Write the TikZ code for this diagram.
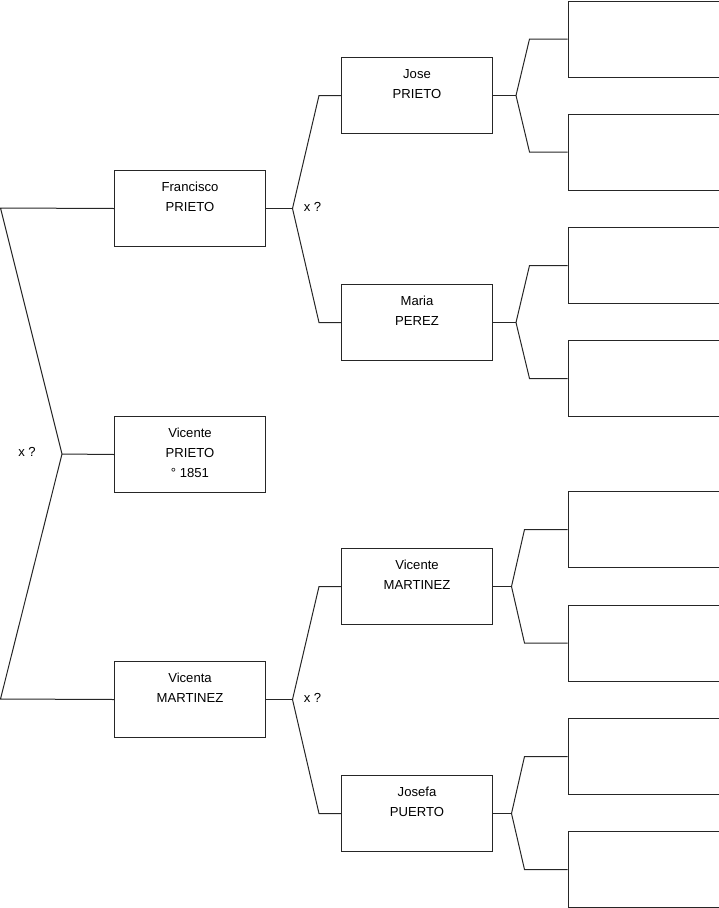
\documentclass[tikz,border=0pt]{standalone}
\usepackage{fontspec}
\setmainfont{Liberation Sans}
\usetikzlibrary{calc}
\begin{document}
\begin{tikzpicture}[x=1pt,y=-1pt,
  person/.style={draw=black!85, line width=1pt, minimum width=151pt, minimum height=76pt, anchor=north west, inner sep=0pt},
  pname/.style={font=\fontsize{13.1}{20}\selectfont, align=center, anchor=north, inner sep=0pt, yshift=-12pt},
  link/.style={draw=black!85, line width=1pt},
  marr/.style={font=\fontsize{13.1}{15}\selectfont, inner sep=0pt}
]
\useasboundingbox (0,0) rectangle (719,908);
% generation 1
\node[person] (fp) at (114,170) {};
\node[person] (vp) at (114,416) {};
\node[person] (vm) at (114,661) {};
% generation 2
\node[person] (jp) at (341,57) {};
\node[person] (mp) at (341,284) {};
\node[person] (vmm) at (341,548) {};
\node[person] (jpu) at (341,775) {};
% generation 3
\node[person] (e1) at (567.5,0.5) {};
\node[person] (e2) at (567.5,113.5) {};
\node[person] (e3) at (567.5,227) {};
\node[person] (e4) at (567.5,340) {};
\node[person] (e5) at (567.5,491) {};
\node[person] (e6) at (567.5,604.5) {};
\node[person] (e7) at (567.5,718) {};
\node[person] (e8) at (567.5,831) {};
% texts
\node[pname] (fpt) at (fp.north) {Francisco\\PRIETO};
\node[pname] (vpt) at (vp.north) {Vicente\\PRIETO\\° 1851};
\node[pname] (vmt) at (vm.north) {Vicenta\\MARTINEZ};
\node[pname] (jpt) at (jp.north) {Jose\\PRIETO};
\node[pname] (mpt) at (mp.north) {Maria\\PEREZ};
\node[pname] (vmmt) at (vmm.north) {Vicente\\MARTINEZ};
\node[pname] (jput) at (jpu.north) {Josefa\\PUERTO};
\node[marr] (x1) at (27,452) {x ?};
\node[marr] (x2) at (312.5,207) {x ?};
\node[marr] (x3) at (312.5,698) {x ?};
% left connector
\coordinate (lt) at (0.5,208);
\coordinate (lb) at (0.5,699);
\coordinate (lj) at (62,454);
\draw[link] (fp.west) -- (lt) -- (lj) -- (lb) -- (vm.west);
\draw[link] (lj) -- (vp.west);
% Francisco
\coordinate (fj) at ($(fp.east)+(26.5,0)$);
\draw[link] (fp.east) -- (fj);
\draw[link] (fj) -- ($(jp.west)+(-22,0)$) -- (jp.west);
\draw[link] (fj) -- ($(mp.west)+(-22,0)$) -- (mp.west);
% Vicenta
\coordinate (vj) at ($(vm.east)+(26.5,0)$);
\draw[link] (vm.east) -- (vj);
\draw[link] (vj) -- ($(vmm.west)+(-22,0)$) -- (vmm.west);
\draw[link] (vj) -- ($(jpu.west)+(-22,0)$) -- (jpu.west);
% Jose
\coordinate (jj) at ($(jp.east)+(23,0)$);
\draw[link] (jp.east) -- (jj);
\draw[link] (jj) -- ($(e1.west)+(-38,0)$) -- (e1.west);
\draw[link] (jj) -- ($(e2.west)+(-38,0)$) -- (e2.west);
% Maria
\coordinate (mj) at ($(mp.east)+(23,0)$);
\draw[link] (mp.east) -- (mj);
\draw[link] (mj) -- ($(e3.west)+(-38,0)$) -- (e3.west);
\draw[link] (mj) -- ($(e4.west)+(-38,0)$) -- (e4.west);
% Vicente MARTINEZ
\coordinate (vmj) at ($(vmm.east)+(18.5,0)$);
\draw[link] (vmm.east) -- (vmj);
\draw[link] (vmj) -- ($(e5.west)+(-43,0)$) -- (e5.west);
\draw[link] (vmj) -- ($(e6.west)+(-43,0)$) -- (e6.west);
% Josefa
\coordinate (jpj) at ($(jpu.east)+(18.5,0)$);
\draw[link] (jpu.east) -- (jpj);
\draw[link] (jpj) -- ($(e7.west)+(-43,0)$) -- (e7.west);
\draw[link] (jpj) -- ($(e8.west)+(-43,0)$) -- (e8.west);
\end{tikzpicture}
\end{document}
